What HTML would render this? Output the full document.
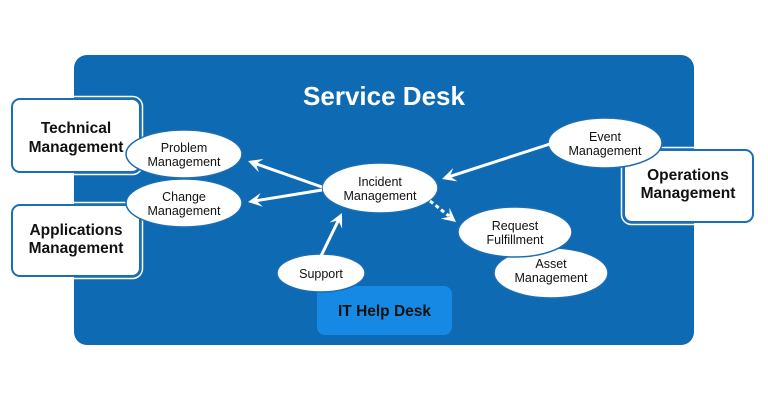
<!DOCTYPE html>
<html><head><meta charset="utf-8"><style>
html,body{margin:0;padding:0;background:#fff;}
svg{display:block;}
text{font-family:"Liberation Sans",sans-serif;}
</style></head><body>
<svg width="768" height="400" viewBox="0 0 768 400" xmlns="http://www.w3.org/2000/svg">
<rect x="0" y="0" width="768" height="400" fill="#fff"/>
<rect x="74" y="55" width="620" height="290" rx="13" fill="#0e6ab2"/>
<text x="384" y="105" text-anchor="middle" font-size="26" font-weight="bold" fill="#fff">Service Desk</text>
<rect x="317" y="286" width="135" height="49" rx="8" fill="#1589e3"/>
<text x="384.5" y="316" text-anchor="middle" font-size="15.5" font-weight="bold" fill="#111">IT Help Desk</text>
<g fill="#fff" stroke="#1b6db5" stroke-width="2">
<rect x="12" y="99" width="128" height="73" rx="8" style="outline:none"/>
<rect x="12" y="205" width="128" height="71" rx="8"/>
<rect x="624" y="150" width="129" height="72" rx="8"/>
</g>
<g fill="none" stroke="#fff" stroke-width="1.5">
<rect x="9.5" y="96.5" width="133" height="78" rx="10"/>
<rect x="9.5" y="202.5" width="133" height="76" rx="10"/>
<rect x="621.5" y="147.5" width="134" height="77" rx="10"/>
</g>
<g font-size="15.5" font-weight="bold" fill="#111" text-anchor="middle">
<text x="76" y="133">Technical</text>
<text x="76" y="152">Management</text>
<text x="76" y="235">Applications</text>
<text x="76" y="253">Management</text>
<text x="688" y="180">Operations</text>
<text x="688" y="198">Management</text>
</g>
<g fill="#fff" stroke="#1b6db5" stroke-width="1.5">
<ellipse cx="184" cy="154" rx="58" ry="24"/>
<ellipse cx="184" cy="203" rx="58" ry="24"/>
<ellipse cx="380" cy="188" rx="58" ry="25"/>
<ellipse cx="321" cy="273" rx="44" ry="19"/>
<ellipse cx="605" cy="143" rx="57" ry="25"/>
<ellipse cx="551" cy="273" rx="57" ry="25"/>
<ellipse cx="515" cy="232" rx="57" ry="25"/>
</g>
<g font-size="12.5" fill="#111" text-anchor="middle">
<text x="184" y="152">Problem</text>
<text x="184" y="166">Management</text>
<text x="184" y="201">Change</text>
<text x="184" y="215">Management</text>
<text x="380" y="186">Incident</text>
<text x="380" y="200">Management</text>
<text x="321" y="278">Support</text>
<text x="605" y="141">Event</text>
<text x="605" y="155">Management</text>
<text x="515" y="230">Request</text>
<text x="515" y="244">Fulfillment</text>
<text x="551" y="268">Asset</text>
<text x="551" y="282">Management</text>
</g>
<g stroke="#fff" stroke-width="3" fill="none">
<line x1="322" y1="187" x2="256" y2="163.8"/>
<line x1="322" y1="190" x2="256.3" y2="200.7"/>
<line x1="321" y1="256" x2="338.3" y2="220.5"/>
<line x1="550" y1="144" x2="450" y2="176.4"/>
<line x1="430" y1="201" x2="449" y2="216" stroke-dasharray="4 3"/>
</g>
<g fill="#fff">
<polygon points="248,161 263.5,159 255.9,163.8 258.9,172.3"/>
<polygon points="248,202 260.7,192.9 256.3,200.7 262.9,206.7"/>
<polygon points="342,213 342.1,228.6 338.3,220.5 329.6,222.5"/>
<polygon points="442,179 453.2,168 450,176.4 457.5,181.4"/>
<polygon points="456,222 440.7,218.6 449.5,216.7 449.5,207.8"/>
</g>
</svg>
</body></html>
